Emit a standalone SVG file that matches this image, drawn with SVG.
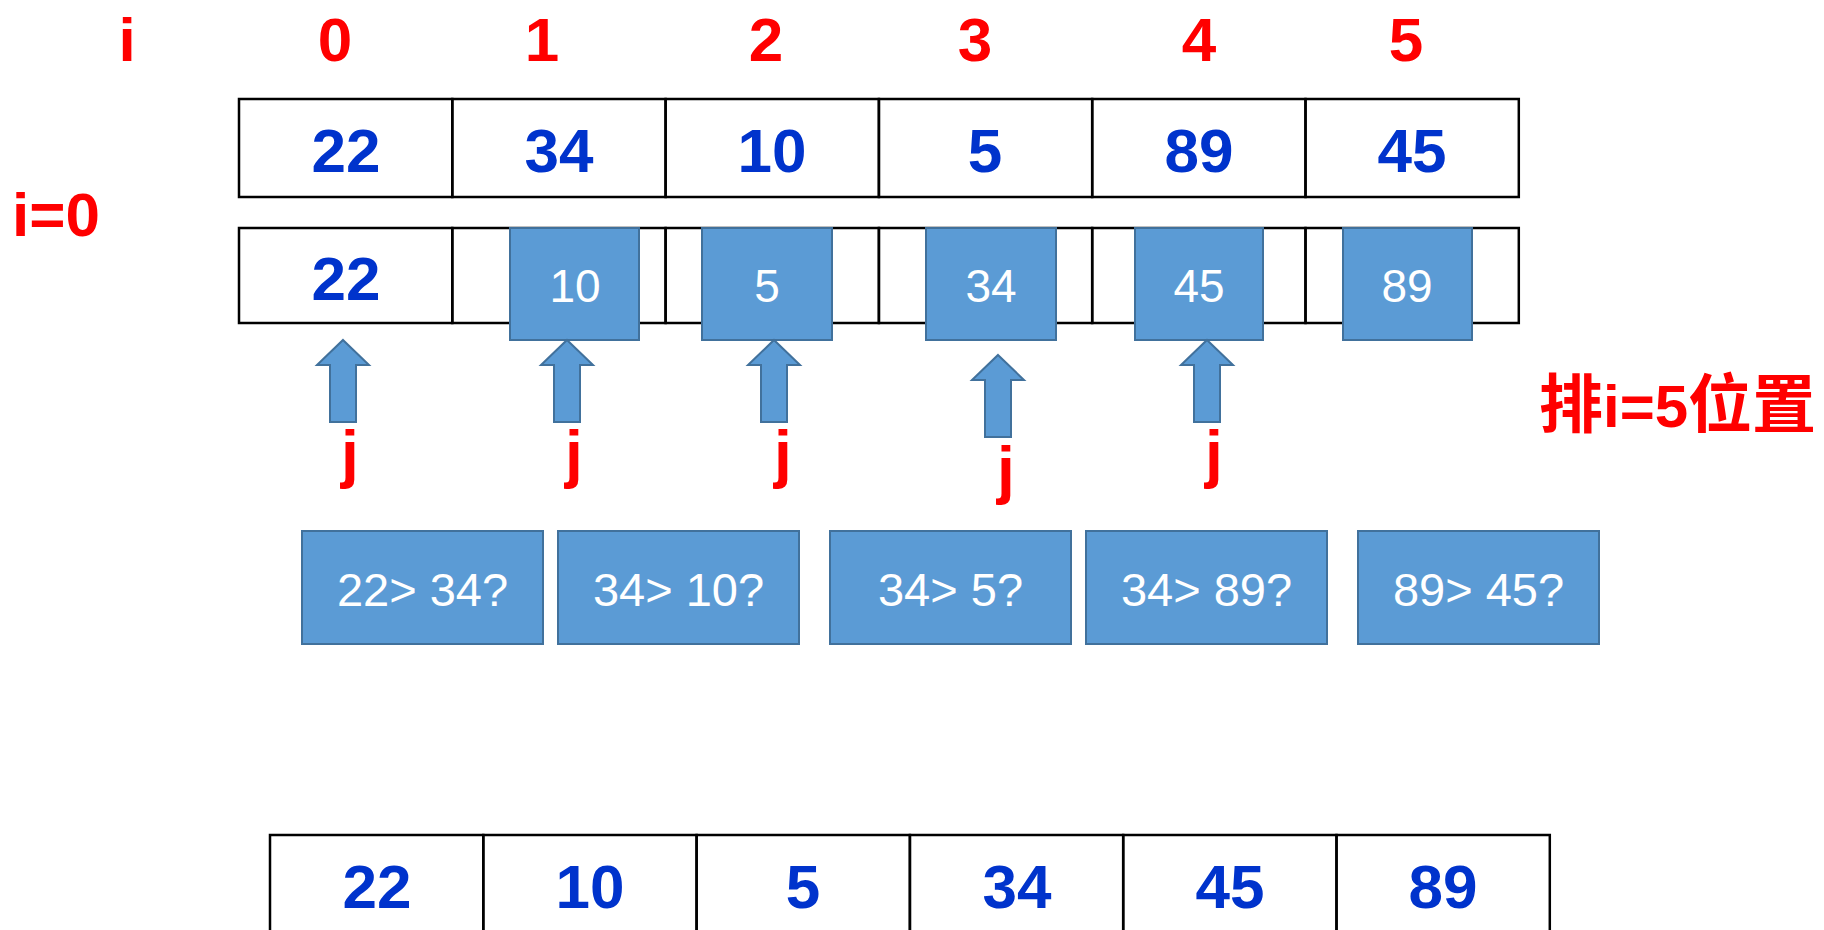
<svg xmlns="http://www.w3.org/2000/svg" width="1824" height="930" viewBox="0 0 1824 930">
<style>
.idx{font-family:"Liberation Sans",Arial,sans-serif;font-weight:bold;font-size:62px;fill:#FF0000;text-anchor:middle}
.jl{font-family:"Liberation Sans",Arial,sans-serif;font-weight:bold;font-size:64px;fill:#FF0000;text-anchor:middle}
.num{font-family:"Liberation Sans",Arial,sans-serif;font-weight:bold;font-size:62px;fill:#0033CC;text-anchor:middle}
.cell{fill:none;stroke:#000;stroke-width:2.5}
.box{fill:#5B9BD5;stroke:#41719C;stroke-width:2}
.bt{font-family:"Liberation Sans",Arial,sans-serif;font-size:46px;fill:#FFFFFF;text-anchor:middle}
.ct{font-family:"Liberation Sans",Arial,sans-serif;font-size:47px;fill:#FFFFFF;text-anchor:middle}
.arr{fill:#5B9BD5;stroke:#41719C;stroke-width:2}
</style>
<defs>
<path id="uparrow" d="M0,0 L26,25 L13,25 L13,82 L-13,82 L-13,25 L-26,25 Z"/>
</defs>
<rect width="1824" height="930" fill="#FFFFFF"/>

<g id="index-labels">
<text class="idx" x="127" y="61">i</text>
<text class="idx" x="335" y="61">0</text>
<text class="idx" x="542" y="61">1</text>
<text class="idx" x="766" y="61">2</text>
<text class="idx" x="975" y="61">3</text>
<text class="idx" x="1199" y="61">4</text>
<text class="idx" x="1406" y="61">5</text>
</g>

<g id="label-i0">
<text class="idx" x="56" y="236">i=0</text>
</g>

<g id="label-pos">
<text x="1539" y="427" font-weight="bold" fill="#FF0000"><tspan font-family="'Noto Sans CJK SC',sans-serif" font-size="64">排</tspan><tspan font-family="'Liberation Sans',Arial,sans-serif" font-size="60">i=5</tspan><tspan font-family="'Noto Sans CJK SC',sans-serif" font-size="64">位置</tspan></text>
</g>

<g id="table-original">
<rect class="cell" x="239" y="99" width="213.3" height="98"/>
<rect class="cell" x="452.3" y="99" width="213.3" height="98"/>
<rect class="cell" x="665.6" y="99" width="213.3" height="98"/>
<rect class="cell" x="878.9" y="99" width="213.3" height="98"/>
<rect class="cell" x="1092.2" y="99" width="213.3" height="98"/>
<rect class="cell" x="1305.5" y="99" width="213.3" height="98"/>
<text class="num" x="346" y="172">22</text>
<text class="num" x="559" y="172">34</text>
<text class="num" x="772" y="172">10</text>
<text class="num" x="985" y="172">5</text>
<text class="num" x="1199" y="172">89</text>
<text class="num" x="1412" y="172">45</text>
</g>

<g id="table-pass">
<rect class="cell" x="239" y="228" width="213.3" height="95"/>
<rect class="cell" x="452.3" y="228" width="213.3" height="95"/>
<rect class="cell" x="665.6" y="228" width="213.3" height="95"/>
<rect class="cell" x="878.9" y="228" width="213.3" height="95"/>
<rect class="cell" x="1092.2" y="228" width="213.3" height="95"/>
<rect class="cell" x="1305.5" y="228" width="213.3" height="95"/>
<text class="num" x="346" y="300">22</text>
</g>

<g id="moved-10"><rect class="box" x="510" y="228" width="129" height="112"/><text class="bt" x="575" y="302">10</text></g>
<g id="moved-5"><rect class="box" x="702" y="228" width="130" height="112"/><text class="bt" x="767" y="302">5</text></g>
<g id="moved-34"><rect class="box" x="926" y="228" width="130" height="112"/><text class="bt" x="991" y="302">34</text></g>
<g id="moved-45"><rect class="box" x="1135" y="228" width="128" height="112"/><text class="bt" x="1199" y="302">45</text></g>
<g id="moved-89"><rect class="box" x="1343" y="228" width="129" height="112"/><text class="bt" x="1407" y="302">89</text></g>

<g id="connectors">
<use href="#uparrow" class="arr" x="343" y="340"/>
<use href="#uparrow" class="arr" x="567" y="340"/>
<use href="#uparrow" class="arr" x="774" y="340"/>
<use href="#uparrow" class="arr" x="998" y="355"/>
<use href="#uparrow" class="arr" x="1207" y="340"/>
</g>

<g id="j-labels">
<text class="jl" x="350" y="476">j</text>
<text class="jl" x="574" y="476">j</text>
<text class="jl" x="783" y="476">j</text>
<text class="jl" x="1006" y="492">j</text>
<text class="jl" x="1214" y="476">j</text>
</g>

<g id="cmp-1"><rect class="box" x="302" y="531" width="241" height="113"/><text class="ct" x="422.5" y="606">22&gt; 34?</text></g>
<g id="cmp-2"><rect class="box" x="558" y="531" width="241" height="113"/><text class="ct" x="678.5" y="606">34&gt; 10?</text></g>
<g id="cmp-3"><rect class="box" x="830" y="531" width="241" height="113"/><text class="ct" x="950.5" y="606">34&gt; 5?</text></g>
<g id="cmp-4"><rect class="box" x="1086" y="531" width="241" height="113"/><text class="ct" x="1206.5" y="606">34&gt; 89?</text></g>
<g id="cmp-5"><rect class="box" x="1358" y="531" width="241" height="113"/><text class="ct" x="1478.5" y="606">89&gt; 45?</text></g>

<g id="table-result">
<rect class="cell" x="270" y="835" width="213.3" height="110"/>
<rect class="cell" x="483.3" y="835" width="213.3" height="110"/>
<rect class="cell" x="696.6" y="835" width="213.3" height="110"/>
<rect class="cell" x="909.9" y="835" width="213.3" height="110"/>
<rect class="cell" x="1123.2" y="835" width="213.3" height="110"/>
<rect class="cell" x="1336.5" y="835" width="213.3" height="110"/>
<text class="num" x="377" y="908">22</text>
<text class="num" x="590" y="908">10</text>
<text class="num" x="803" y="908">5</text>
<text class="num" x="1017" y="908">34</text>
<text class="num" x="1230" y="908">45</text>
<text class="num" x="1443" y="908">89</text>
</g>
</svg>
